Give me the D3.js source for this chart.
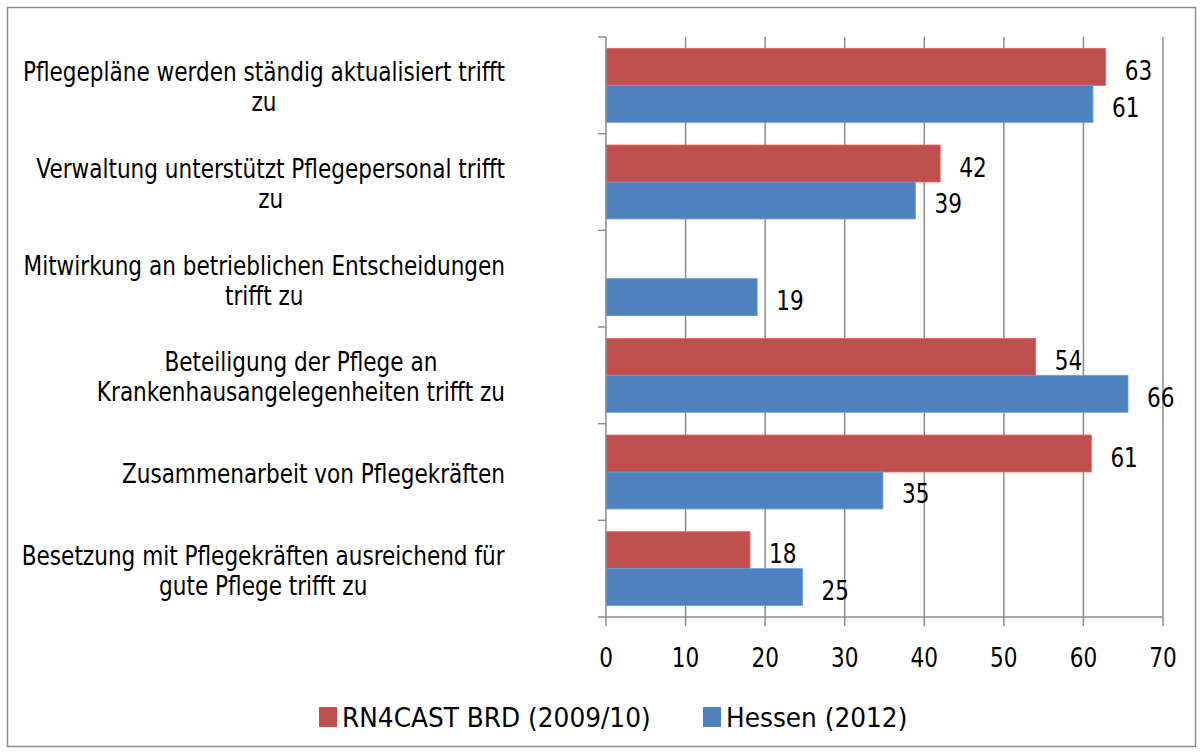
<!DOCTYPE html>
<html>
<head>
<meta charset="utf-8">
<script src="https://cdn.jsdelivr.net/npm/d3@7"></script>
<style>
  body { margin: 0; background: #fff; }
  text { font-family: "DejaVu Sans", Verdana, sans-serif; fill: #000; }
</style>
</head>
<body>
<div id="chart"></div>
<script>
// category labels, already broken into lines like in the picture
const categories = [
    ["Pflegepläne werden ständig aktualisiert trifft", "zu"],
    ["Verwaltung unterstützt Pflegepersonal trifft", "zu"],
    ["Mitwirkung an betrieblichen Entscheidungen", "trifft zu"],
    ["Beteiligung der Pflege an", "Krankenhausangelegenheiten trifft zu"],
    ["Zusammenarbeit von Pflegekräften"],
    ["Besetzung mit Pflegekräften ausreichend für", "gute Pflege trifft zu"]
];
const seriesNames = ["RN4CAST BRD (2009/10)", "Hessen (2012)"];
const seriesColors = ["#C0504D", "#4F81BD"];
const rn4cast = [62.8, 42.0, null, 54.0, 61.0, 18.1];
const hessen = [61.2, 38.9, 19.0, 65.6, 34.8, 24.7];
const xTicks = [0, 10, 20, 30, 40, 50, 60, 70];

const W = 1203, H = 754;
const margin = { top: 37, right: 40, bottom: 137, left: 606 };
const FS = 27;        // font size
const SX = 0.80;      // horizontal squeeze of the glyphs
const SX_LEGEND = 0.92;

const svg = d3.select("#chart").append("svg")
    .attr("width", W)
    .attr("height", H);

// outer frame
svg.append("rect")
    .attr("x", 7.5).attr("y", 7.5)
    .attr("width", W - 15).attr("height", H - 15)
    .attr("fill", "#fff")
    .attr("stroke", "#8c8c8c")
    .attr("stroke-width", 1.5);

function label(parent, x, y, str, anchor, sx) {
    return parent.append("text")
        .attr("transform", `translate(${x},${y}) scale(${sx || SX},1)`)
        .attr("text-anchor", anchor || "start")
        .style("font-size", FS + "px")
        .text(str);
}

const x = d3.scaleLinear()
    .domain([0, 70])
    .range([margin.left, W - margin.right]);

const y = d3.scaleBand()
    .domain(d3.range(categories.length))
    .range([margin.top, H - margin.bottom])
    .paddingInner(0.235)
    .paddingOuter(0.1175);

const ySub = d3.scaleBand()
    .domain([0, 1])
    .range([0, y.bandwidth()]);

const step = y.step();
const plotTop = margin.top, plotBottom = H - margin.bottom;
const gridColor = "#8c8c8c";

// vertical gridlines
svg.append("g")
    .selectAll("line")
    .data(xTicks.slice(1))
    .join("line")
    .attr("x1", d => x(d)).attr("x2", d => x(d))
    .attr("y1", plotTop).attr("y2", plotBottom)
    .attr("stroke", gridColor)
    .attr("stroke-width", 1.5);

// bars
const rows = categories.map((c, i) => [rn4cast[i], hessen[i]]);
const groups = svg.append("g")
    .selectAll("g")
    .data(rows)
    .join("g")
    .attr("transform", (d, i) => `translate(0,${y(i)})`);

groups.selectAll("rect")
    .data(d => d.map((v, s) => ({ v, s })).filter(d => d.v != null))
    .join("rect")
    .attr("x", x(0))
    .attr("y", d => ySub(d.s))
    .attr("width", d => x(d.v) - x(0))
    .attr("height", ySub.bandwidth())
    .attr("fill", d => seriesColors[d.s])
    .attr("stroke", d => d3.color(seriesColors[d.s]).brighter(0.6))
    .attr("stroke-width", 0.8);

// value labels
groups.each(function(d) {
    const g = d3.select(this);
    d.forEach((v, s) => {
        if (v == null) return;
        label(g, x(v) + 19, ySub(s) + ySub.bandwidth() / 2 + 13, d3.format(".0f")(v));
    });
});

// x axis line + ticks
svg.append("line")
    .attr("x1", x(0)).attr("x2", x(70))
    .attr("y1", plotBottom).attr("y2", plotBottom)
    .attr("stroke", gridColor).attr("stroke-width", 1.5);

svg.append("g")
    .selectAll("line")
    .data(xTicks)
    .join("line")
    .attr("x1", d => x(d)).attr("x2", d => x(d))
    .attr("y1", plotBottom).attr("y2", plotBottom + 9)
    .attr("stroke", gridColor).attr("stroke-width", 1.5);

xTicks.forEach(t => label(svg, x(t), 667, String(t), "middle"));

// y axis line + ticks at category boundaries
svg.append("line")
    .attr("x1", x(0)).attr("x2", x(0))
    .attr("y1", plotTop).attr("y2", plotBottom)
    .attr("stroke", gridColor).attr("stroke-width", 1.5);

svg.append("g")
    .selectAll("line")
    .data(d3.range(categories.length + 1))
    .join("line")
    .attr("x1", x(0) - 8).attr("x2", x(0))
    .attr("y1", i => plotTop + i * step).attr("y2", i => plotTop + i * step)
    .attr("stroke", gridColor).attr("stroke-width", 1.5);

// category labels: lines centred in a block right-aligned at x=505
const lineH = 30;
categories.forEach((lines, i) => {
    const cy = y(i) + y.bandwidth() / 2;
    const g = svg.append("g");
    const inner = g.append("g").attr("transform", `scale(${SX},1)`);
    lines.forEach((ln, j) => {
        inner.append("text")
            .attr("x", 0)
            .attr("y", (j - (lines.length - 1) / 2) * lineH + 11)
            .attr("text-anchor", "middle")
            .style("font-size", FS + "px")
            .text(ln);
    });
    const w = inner.node().getBBox().width * SX;
    g.attr("transform", `translate(${505 - w / 2},${cy})`);
});

// legend
const legend = svg.append("g");
const legendX = [319, 703];
seriesNames.forEach((name, s) => {
    legend.append("rect")
        .attr("x", legendX[s]).attr("y", 707)
        .attr("width", 18).attr("height", 20)
        .attr("fill", seriesColors[s]);
    label(legend, legendX[s] + 23, 727, name, "start", SX_LEGEND);
});
</script>
</body>
</html>
